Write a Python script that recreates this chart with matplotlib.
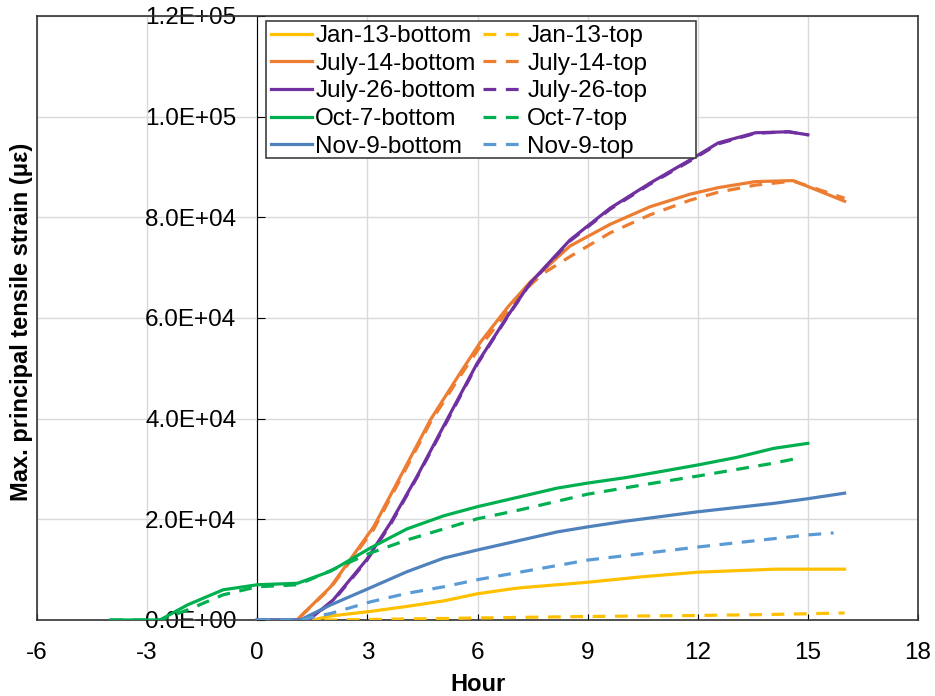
import matplotlib
matplotlib.use("Agg")
import matplotlib.pyplot as plt
from matplotlib.patches import Rectangle
from matplotlib.ticker import FuncFormatter, MultipleLocator

plt.rcParams["font.family"] = ["Liberation Sans", "DejaVu Sans"]
plt.rcParams["axes.unicode_minus"] = False

# Jan-13
jan_bot_x = [0, 1.5, 2.0, 3.08, 4.08, 5.08, 5.99, 6.84, 7.17, 9, 10.5, 12, 14.1, 16]
jan_bot_y = [0, 0, 800, 1700, 2700, 3800, 5200, 6100, 6400, 7500, 8600, 9500, 10100, 10100]
jan_top_x = [0, 1.8, 3, 6, 9, 12, 14, 16]
jan_top_y = [0, 0, 100, 400, 700, 900, 1100, 1400]

# July-14
jul14_bot_x = [0, 1.08, 2.0, 3.17, 3.9, 4.72, 5.53, 6.07, 6.84, 7.43, 8.52, 9.61,
               10.7, 11.79, 12.56, 13.57, 14.6, 16.0]
jul14_bot_y = [0, 0, 6600, 18500, 28500, 39800, 49100, 55100, 62300, 67100, 74300,
               78600, 82100, 84600, 85900, 87100, 87300, 83200]
jul14_top_x = [0, 1.08, 2.0, 3.17, 3.9, 4.72, 5.53, 6.07, 6.84, 7.43, 7.8, 8.52,
               9.61, 10.7, 11.79, 12.56, 13.57, 14.6, 16.0]
jul14_top_y = [0, 0, 6400, 18000, 28000, 39300, 48500, 54300, 61500, 66500, 68900,
               72200, 76900, 80500, 83400, 85000, 86400, 87200, 83800]

# July-26
jul26_bot_x = [0, 1.4, 2.07, 2.98, 3.63, 4.35, 5.17, 5.99, 6.84, 7.43, 8.52, 9.61,
               10.7, 11.79, 12.56, 13.57, 14.47, 15.0]
jul26_bot_y = [0, 0, 4000, 12000, 19300, 28500, 39800, 51000, 60600, 66900, 75500,
               81800, 86800, 91400, 94800, 96800, 97000, 96400]
jul26_top_x = [0, 1.4, 2.07, 2.98, 3.63, 4.35, 5.17, 5.99, 6.84, 7.43, 8.52, 9.61,
               10.7, 11.79, 12.56, 13.57, 14.47, 15.0]
jul26_top_y = [0, 0, 3800, 11800, 19000, 28300, 39500, 50800, 60500, 66800, 75300,
               81600, 86600, 91200, 94600, 96700, 97000, 96400]

# Oct-7
oct_bot_x = [-4, -2.65, -1.9, -0.93, 0, 1.1, 2.0, 3.08, 4.08, 5.08, 5.99, 7.17,
             8.17, 9, 10.05, 11, 12, 13.06, 14.07, 15]
oct_bot_y = [0, 0, 3000, 6000, 7000, 7300, 9700, 14300, 18100, 20700, 22500, 24500,
             26200, 27200, 28300, 29500, 30800, 32300, 34100, 35100]
oct_top_x = [-4, -2.65, -1.9, -0.93, 0, 1.1, 1.62, 3.08, 4.08, 5.08, 5.99, 7.17,
             9, 10.8, 12, 14.02, 14.84]
oct_top_y = [0, 0, 2000, 5000, 6600, 7000, 8600, 13300, 15900, 18100, 20100, 21900,
             25000, 27200, 28600, 31100, 32300]

# Nov-9
nov_bot_x = [0, 1.17, 2.0, 3.08, 4.08, 5.08, 5.99, 6.84, 8.17, 9, 10, 12, 14.1, 15, 16]
nov_bot_y = [0, 0, 3000, 6400, 9600, 12300, 13900, 15300, 17500, 18500, 19600, 21500,
             23200, 24100, 25200]
nov_top_x = [0, 1.17, 2.0, 3.08, 4.08, 5.08, 5.99, 6.84, 9, 12, 15, 15.7]
nov_top_y = [0, 0, 1300, 3600, 5300, 6600, 8000, 9100, 11900, 14500, 16900, 17300]

series = [
    ("Jan-13-bottom", jan_bot_x, jan_bot_y, "#FFC000", False),
    ("Jan-13-top", jan_top_x, jan_top_y, "#FFC000", True),
    ("July-14-bottom", jul14_bot_x, jul14_bot_y, "#ED7D31", False),
    ("July-14-top", jul14_top_x, jul14_top_y, "#ED7D31", True),
    ("July-26-bottom", jul26_bot_x, jul26_bot_y, "#7030A0", False),
    ("July-26-top", jul26_top_x, jul26_top_y, "#7030A0", True),
    ("Oct-7-bottom", oct_bot_x, oct_bot_y, "#00B050", False),
    ("Oct-7-top", oct_top_x, oct_top_y, "#00B050", True),
    ("Nov-9-bottom", nov_bot_x, nov_bot_y, "#4F81BD", False),
    ("Nov-9-top", nov_top_x, nov_top_y, "#5B9BD5", True),
]

fig = plt.figure(figsize=(9.35, 6.96), dpi=100)
ax = fig.add_axes([37 / 935, 1 - 620 / 696, 881 / 935, 604 / 696])

handles = {}
for name, xs, ys, color, dashed in series:
    line, = ax.plot(xs, ys, color=color, lw=2.3, label=name, zorder=3)
    if dashed:
        line.set_dashes((4, 3))
    handles[name] = line

ax.set_xlim(-6, 18)
ax.set_ylim(0, 120000)
ax.xaxis.set_major_locator(MultipleLocator(3))
ax.yaxis.set_major_locator(MultipleLocator(20000))
ax.yaxis.set_major_formatter(FuncFormatter(lambda v, p: f"{v:.1E}"))

ax.grid(True, color="#d9d9d9", lw=1, zorder=0)
ax.set_axisbelow(True)

ax.spines["left"].set_position(("data", 0))
ax.spines["left"].set_color("black")
for s in ["top", "right", "bottom"]:
    ax.spines[s].set_color("#333333")
    ax.spines[s].set_linewidth(1.2)
ax.axvline(-6, color="#333333", lw=1.2, clip_on=False, zorder=4)

ax.tick_params(axis="y", direction="in", length=6, pad=15, labelsize=17.5)
ax.tick_params(axis="x", direction="in", length=4, pad=16, labelsize=17.5)

ax.set_xlabel("Hour", fontsize=17, fontweight="bold")
ax.xaxis.set_label_coords(0.5, -0.088)
ax.set_ylabel("Max. principal tensile strain (\u03bc\u03b5)", fontsize=17, fontweight="bold")
ax.yaxis.set_label_coords(-0.005, 0.493)

order = ["Jan-13-bottom", "July-14-bottom", "July-26-bottom", "Oct-7-bottom", "Nov-9-bottom",
         "Jan-13-top", "July-14-top", "July-26-top", "Oct-7-top", "Nov-9-top"]
box_x0, box_y1 = (266 - 37) / 881, (620 - 21) / 604
box_w, box_h = (696 - 266) / 881, (158 - 21) / 604
leg = ax.legend([handles[n] for n in order], order, ncol=2, loc="upper left",
                bbox_to_anchor=(box_x0 + 0.003, box_y1 - 0.003), borderaxespad=0,
                fontsize=17.5, frameon=False, handlelength=1.7, handletextpad=0.12,
                columnspacing=0.3, labelspacing=0.23, borderpad=0.1)
leg.set_zorder(5)
ax.add_patch(Rectangle((box_x0, box_y1 - box_h), box_w, box_h, transform=ax.transAxes,
                       facecolor="white", edgecolor="#404040", lw=1.2, zorder=4.5))

fig.savefig("out.png", dpi=100)
